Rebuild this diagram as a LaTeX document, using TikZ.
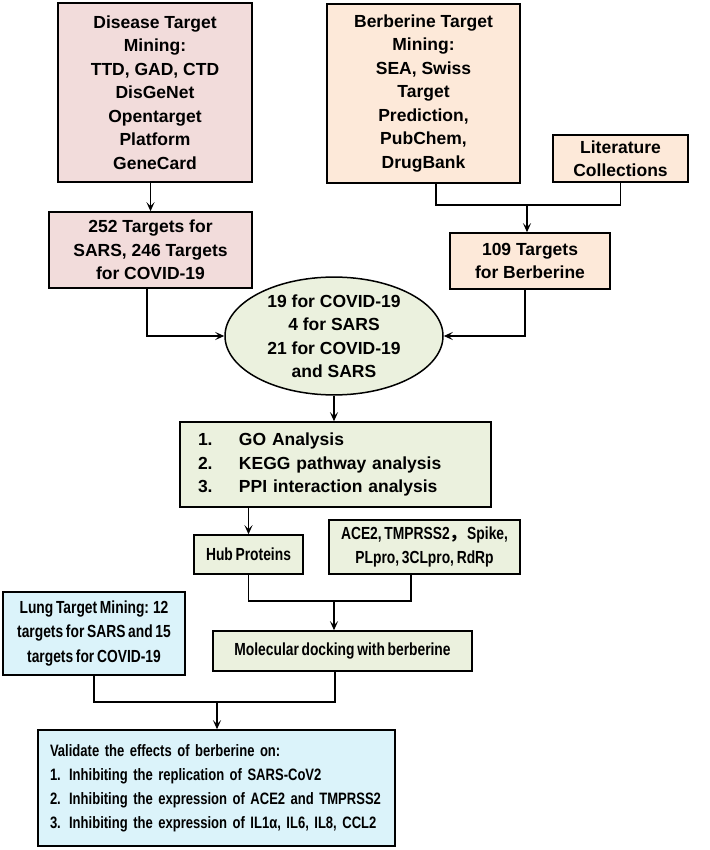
\documentclass[tikz,border=0pt]{standalone}
\usepackage{fontspec}
\setmainfont{Liberation Sans}
\newfontfamily\narrowfont[FakeStretch=0.79,WordSpace=0.7]{Liberation Sans}
\newfontfamily\cjk{Noto Sans CJK SC}
\usetikzlibrary{arrows.meta,shapes.geometric}

\definecolor{diseasepink}{HTML}{F2DCDB}
\definecolor{berberpeach}{HTML}{FDE9D9}
\definecolor{analysisgreen}{HTML}{EBF1DE}
\definecolor{lungblue}{HTML}{DBF3FA}

\begin{document}
\begin{tikzpicture}[x=1pt,y=-1pt,
    box/.style={draw, line width=1.5pt, align=center, inner sep=0pt,
      font=\fontsize{17.5}{23.5}\selectfont\bfseries},
    narrowbox/.style={box, font=\fontsize{17.5}{24.5}\selectfont\narrowfont\bfseries},
    link/.style={line width=1.4pt},
    arr/.style={link, -{Stealth[length=9pt,width=8pt,inset=4pt]}}]
    \useasboundingbox (0,0) rectangle (709,850);

    % Disease side
    \node[box, fill=diseasepink, minimum width=194pt, minimum height=179pt] (dis) at (155,92.5)
      {Disease Target\\Mining:\\TTD, GAD, CTD\\DisGeNet\\Opentarget\\Platform\\GeneCard};
    \node[box, fill=diseasepink, minimum width=203pt, minimum height=76pt] (t252) at (150.5,250)
      {252 Targets for\\SARS, 246 Targets\\for COVID-19};

    % Berberine side
    \node[box, fill=berberpeach, minimum width=193pt, minimum height=179pt] (ber) at (423.5,93.5)
      {Berberine Target\\Mining:\\SEA, Swiss\\Target\\Prediction,\\PubChem,\\DrugBank};
    \node[box, fill=berberpeach, minimum width=135pt, minimum height=47pt] (lit) at (620.5,158.5)
      {Literature\\Collections};
    \node[box, fill=berberpeach, minimum width=160pt, minimum height=56pt] (t109) at (530,261)
      {109 Targets\\for Berberine};

    % Overlap
    \node[box, ellipse, fill=analysisgreen, minimum width=218pt, minimum height=108pt] (ell) at (334,336)
      {19 for COVID-19\\4 for SARS\\21 for COVID-19\\and SARS};

    % Analysis
    \node[box, fill=analysisgreen, minimum width=311pt, minimum height=85pt, inner xsep=18pt,
      text width=275pt, align=left] (go) at (335.5,464.5)
      {\makebox[41pt][l]{1.}GO Analysis\\
       \makebox[41pt][l]{2.}KEGG pathway analysis\\
       \makebox[41pt][l]{3.}PPI interaction analysis};
    \node[narrowbox, fill=analysisgreen, minimum width=109pt, minimum height=39pt] (hub) at (248.5,554.5)
      {Hub Proteins};
    \node[narrowbox, fill=analysisgreen, minimum width=191pt, minimum height=54pt] (ace) at (424.5,547)
      {ACE2, TMPRSS2{\cjk ，}Spike,\\PLpro, 3CLpro, RdRp};
    \node[narrowbox, fill=analysisgreen, minimum width=259pt, minimum height=40pt] (dock) at (342.5,651)
      {Molecular docking with berberine};

    % Lung and validation
    \node[narrowbox, fill=lungblue, minimum width=182pt, minimum height=83pt] (lung) at (94,633.5)
      {Lung Target Mining: 12\\targets for SARS and 15\\targets for COVID-19};
    \node[narrowbox, fill=lungblue, minimum width=357pt, minimum height=116pt, inner xsep=12pt,
      text width=333pt, align=left, font=\fontsize{16.5}{24}\selectfont\narrowfont\bfseries] (val) at (216.5,788)
      {Validate the effects of berberine on:\\
       \mbox{1. Inhibiting the replication of SARS-CoV2}\\
       \mbox{2. Inhibiting the expression of ACE2 and TMPRSS2}\\
       \mbox{3. Inhibiting the expression of IL1α, IL6, IL8, CCL2}};

    % Connectors
    \draw[arr] (t252.north |- dis.south) -- (t252.north);
    \coordinate (bjoin) at (527,205);
    \draw[link] ([xshift=12.5pt]ber.south) |- (bjoin) -| (lit.south);
    \draw[arr] (bjoin) -- (bjoin |- t109.north);
    \draw[arr] ([xshift=-3.5pt]t252.south) |- (ell.west);
    \draw[arr] ([xshift=-5pt]t109.south) |- (ell.east);
    \draw[arr] (ell.south) -- (ell.south |- go.north);
    \draw[arr] (hub.north |- go.south) -- (hub.north);
    \coordinate (djoin) at (334,601);
    \draw[link] (hub.south) |- (djoin) -| ([xshift=-13.5pt]ace.south);
    \draw[arr] (djoin) -- (djoin |- dock.north);
    \coordinate (vjoin) at (217,702);
    \draw[link] (lung.south) |- (vjoin) -| ([xshift=-7.5pt]dock.south);
    \draw[arr] (vjoin) -- (vjoin |- val.north);
\end{tikzpicture}
\end{document}
